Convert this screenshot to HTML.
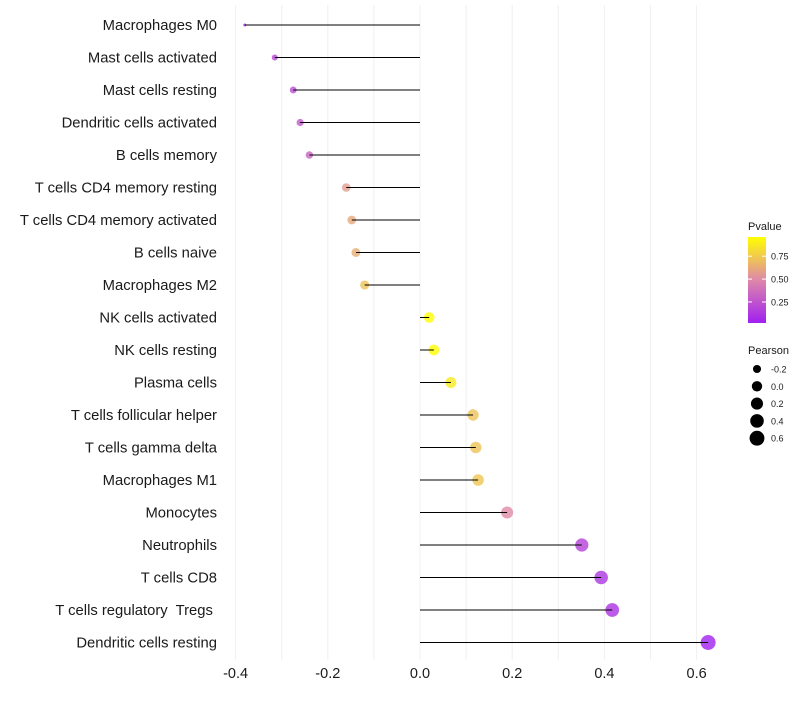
<!DOCTYPE html>
<html><head><meta charset="utf-8"><style>
html,body{margin:0;padding:0;background:#fff;}
svg text{font-family:"Liberation Sans",sans-serif;white-space:pre;}
</style></head><body>
<svg id="chart" width="800" height="700" xmlns="http://www.w3.org/2000/svg">
<g id="grid"></g>
<g id="ylabels"></g>
<g id="marks"></g>
<g id="xticks"></g>
<g id="legend"></g>
</svg>
<script>
const categories = ["Macrophages M0","Mast cells activated","Mast cells resting","Dendritic cells activated","B cells memory","T cells CD4 memory resting","T cells CD4 memory activated","B cells naive","Macrophages M2","NK cells activated","NK cells resting","Plasma cells","T cells follicular helper","T cells gamma delta","Macrophages M1","Monocytes","Neutrophils","T cells CD8","T cells regulatory  Tregs ","Dendritic cells resting"];
const pearson = [-0.38,-0.315,-0.275,-0.26,-0.24,-0.16,-0.148,-0.139,-0.12,0.02,0.03,0.067,0.115,0.121,0.126,0.189,0.351,0.393,0.417,0.625];
const pvalue = [0.05,0.2,0.22,0.27,0.33,0.57,0.62,0.64,0.72,0.98,0.97,0.88,0.72,0.72,0.73,0.5,0.17,0.12,0.1,0.03];
const xTicks = [-0.4,-0.2,0,0.2,0.4,0.6];
const gridVals = [-0.4,-0.3,-0.2,-0.1,0,0.1,0.2,0.3,0.4,0.5,0.6];
const pLegendTicks = [0.25,0.5,0.75];
const sLegendVals = [-0.2,0,0.2,0.4,0.6];

const NS="http://www.w3.org/2000/svg";
function mk(tag,attrs,parent){const e=document.createElementNS(NS,tag);for(const k in attrs)e.setAttribute(k,attrs[k]);parent.appendChild(e);return e;}
const x = v => 420 + v*461;
const y = i => 25 + i*32.5;
const pMin=0.02,pMax=0.96;
function lerp(a,b,t){return a+(b-a)*t;}
const stops=[[0,[160,32,240]],[0.5,[222,136,170]],[1,[255,255,0]]];
function color(p){let t=Math.max(0,Math.min(1,(p-pMin)/(pMax-pMin)));let a=stops[0],b=stops[1];if(t>0.5){a=stops[1];b=stops[2];}const u=(t-a[0])/(b[0]-a[0]);return `rgb(${a[1].map((c,j)=>Math.round(lerp(c,b[1][j],u))).join(',')})`;}
const sMin=Math.min(...pearson),sMax=Math.max(...pearson);
const rad = v => 1.5 + 6*Math.sqrt(Math.max(0,(v-sMin)/(sMax-sMin)));

const grid=document.getElementById('grid');
gridVals.forEach(v=>{const l=mk('line',{x1:x(v),x2:x(v),y1:5,y2:660,stroke:'#f0f0f0','stroke-width':1},grid);

});

const yl=document.getElementById('ylabels');
const mg=document.getElementById('marks');
categories.forEach((c,i)=>{
 const t=mk('text',{x:217,y:y(i)+5,'text-anchor':'end','font-size':14.8,fill:'#1a1a1a'},yl);t.textContent=c;
 
 
 const pt=mk('circle',{cx:x(pearson[i]),cy:y(i),r:rad(pearson[i]),fill:color(pvalue[i]),'fill-opacity':0.8},mg);
 
 
 const ln=mk('line',{x1:x(0),x2:x(pearson[i]),y1:y(i),y2:y(i),stroke:'#000','stroke-width':1},mg);
 
 
});
const xt=document.getElementById('xticks');
xTicks.forEach(v=>{const t=mk('text',{x:x(v),y:678,'text-anchor':'middle','font-size':14.5,fill:'#1a1a1a'},xt);t.textContent=(v===0?'0.0':v.toFixed(1));

});

const lg=document.getElementById('legend');
const lt=mk('text',{x:748,y:230,'font-size':11,fill:'#1a1a1a'},lg);lt.textContent='Pvalue';


const defs=mk('defs',{},lg);const grad=mk('linearGradient',{id:'pg',x1:0,y1:1,x2:0,y2:0},defs);
[0,0.25,0.5,0.75,1].forEach(t=>mk('stop',{offset:t,'stop-color':color(pMin+t*(pMax-pMin))},grad));
const bar=mk('rect',{x:748,y:237,width:18,height:86,fill:'url(#pg)'},lg);


const by = p => 323 - (p-pMin)/(pMax-pMin)*86;
pLegendTicks.forEach(p=>{mk('line',{x1:748,x2:752,y1:by(p),y2:by(p),stroke:'#fff'},lg);mk('line',{x1:762,x2:766,y1:by(p),y2:by(p),stroke:'#fff'},lg);
const t=mk('text',{x:771,y:by(p)+3.5,'font-size':9,fill:'#1a1a1a'},lg);t.textContent=p.toFixed(2);

});
const st=mk('text',{x:748,y:354,'font-size':11,fill:'#1a1a1a'},lg);st.textContent='Pearson';


sLegendVals.forEach((v,i)=>{const cy=369+i*17.3;
const c=mk('circle',{cx:757,cy:cy,r:rad(v),fill:'#000'},lg);


const t=mk('text',{x:771,y:cy+3.5,'font-size':9,fill:'#1a1a1a'},lg);t.textContent=v.toFixed(1);

});
</script>
</body></html>
